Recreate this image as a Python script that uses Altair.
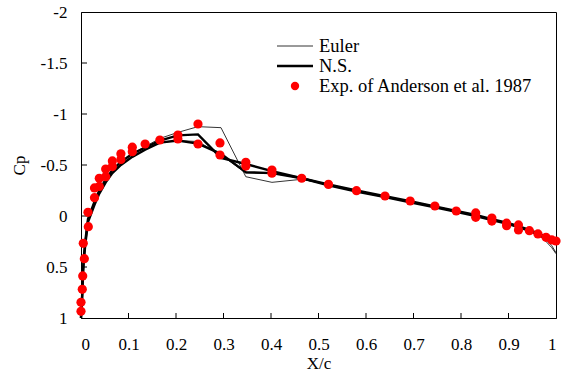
import altair as alt
import pandas as pd

# ---------------- data ----------------
# Experiment (Anderson et al. 1987)
exp_x = [0.0, 0.0, 0.0027, 0.0036, 0.007, 0.0048, 0.0154, 0.0147, 0.0284, 0.0284,
         0.0385, 0.0385, 0.052, 0.052, 0.066, 0.066, 0.084, 0.084, 0.108, 0.108,
         0.135, 0.166, 0.204, 0.204, 0.2463, 0.2463, 0.2926, 0.2926, 0.347, 0.347,
         0.402, 0.402, 0.4646, 0.521, 0.580, 0.640, 0.693, 0.745, 0.790, 0.831,
         0.831, 0.865, 0.865, 0.896, 0.896, 0.921, 0.921, 0.944, 0.962, 0.979,
         0.991, 1.0]
exp_cp = [0.934, 0.846, 0.719, 0.588, 0.418, 0.268, 0.105, -0.036, -0.18, -0.275,
          -0.29, -0.37, -0.385, -0.46, -0.485, -0.54, -0.555, -0.61, -0.63, -0.675,
          -0.706, -0.745, -0.755, -0.794, -0.706, -0.902, -0.716, -0.598, -0.527, -0.49,
          -0.45, -0.42, -0.37, -0.31, -0.248, -0.196, -0.147, -0.098, -0.049, -0.03,
          0.013, 0.02, 0.05, 0.07, 0.095, 0.088, 0.137, 0.144, 0.176, 0.209,
          0.235, 0.245]

# Navier-Stokes (two branches)
ns_a_x = [0.0, 0.0027, 0.004, 0.006, 0.009, 0.0147, 0.0284, 0.0385, 0.052, 0.066,
          0.084, 0.108, 0.135, 0.166, 0.204, 0.2463, 0.2947, 0.347, 0.402, 0.465,
          0.521, 0.580, 0.640, 0.693, 0.745, 0.790, 0.831, 0.865, 0.896, 0.921,
          0.944, 0.962, 0.979, 0.991, 1.0]
ns_a_cp = [1.0, 0.75, 0.55, 0.40, 0.25, 0.03, -0.14, -0.25, -0.36, -0.45,
           -0.53, -0.61, -0.67, -0.74, -0.79, -0.80, -0.57, -0.51, -0.44, -0.37,
           -0.31, -0.25, -0.195, -0.145, -0.095, -0.05, -0.01, 0.03, 0.065, 0.10,
           0.135, 0.17, 0.205, 0.23, 0.25]
ns_b_x = ns_a_x
ns_b_cp = [1.0, 0.77, 0.58, 0.43, 0.28, 0.06, -0.11, -0.22, -0.33, -0.42,
           -0.50, -0.58, -0.65, -0.72, -0.74, -0.71, -0.61, -0.43, -0.42, -0.37,
           -0.30, -0.24, -0.185, -0.135, -0.085, -0.04, 0.0, 0.04, 0.075, 0.11,
           0.145, 0.18, 0.21, 0.235, 0.255]

# Euler (two branches)
eu_a_x = ns_a_x
eu_a_cp = [1.0, 0.75, 0.55, 0.40, 0.25, 0.03, -0.14, -0.25, -0.36, -0.45,
           -0.53, -0.61, -0.68, -0.76, -0.82, -0.876, -0.866, -0.385, -0.33, -0.36,
           -0.31, -0.25, -0.195, -0.145, -0.095, -0.05, -0.01, 0.03, 0.065, 0.10,
           0.135, 0.18, 0.23, 0.29, 0.36]
eu_b_x = ns_a_x
eu_b_cp = [1.0, 0.77, 0.58, 0.43, 0.28, 0.06, -0.11, -0.22, -0.33, -0.42,
           -0.50, -0.58, -0.65, -0.72, -0.74, -0.73, -0.60, -0.42, -0.42, -0.37,
           -0.30, -0.24, -0.185, -0.135, -0.085, -0.04, 0.0, 0.04, 0.075, 0.11,
           0.145, 0.18, 0.25, 0.31, 0.37]

x_ticks = [0, 0.1, 0.2, 0.3, 0.4, 0.5, 0.6, 0.7, 0.8, 0.9, 1]
y_ticks = [-2, -1.5, -1, -0.5, 0, 0.5, 1]
legend_labels = ["Euler", "N.S.", "Exp. of Anderson et al. 1987"]

# ---------------- tables ----------------
def branch(xs, cps, name):
    return pd.DataFrame({"x": xs, "cp": cps, "branch": name, "i": range(len(xs))})

euler_df = pd.concat([branch(eu_a_x, eu_a_cp, "a"), branch(eu_b_x, eu_b_cp, "b")])
ns_df = pd.concat([branch(ns_a_x, ns_a_cp, "a"), branch(ns_b_x, ns_b_cp, "b")])
exp_df = pd.DataFrame({"x": exp_x, "cp": exp_cp})
xt_df = pd.DataFrame({"x": x_ticks[1:-1]})
yt_df = pd.DataFrame({"cp": y_ticks[1:-1]})

FONT = "Liberation Serif"
FS = 17
LFS = 18.5
W, H = 475, 306

xs = alt.Scale(domain=[0, 1], nice=False, zero=False)
ys = alt.Scale(domain=[-2, 1], reverse=True, nice=False, zero=False)
X = alt.X("x:Q", scale=xs, axis=alt.Axis(values=x_ticks, title="X/c", tickSize=0,
                                          labelPadding=18, titlePadding=3,
                                          labelExpr="toString(datum.value)"))
Y = alt.Y("cp:Q", scale=ys, axis=alt.Axis(values=y_ticks, title="Cp", tickSize=0,
                                           labelPadding=14, titlePadding=12,
                                           labelExpr="toString(datum.value)"))

euler = alt.Chart(euler_df).mark_line(color="black", strokeWidth=0.8).encode(
    x=X, y=Y, detail="branch:N", order="i:Q")
ns = alt.Chart(ns_df).mark_line(color="black", strokeWidth=2.4).encode(
    x=X, y=Y, detail="branch:N", order="i:Q")
pts = alt.Chart(exp_df).mark_circle(color="#ff0000", opacity=1, size=85).encode(x=X, y=Y)

xticks = alt.Chart(xt_df).mark_rule(color="black").encode(
    x=X, y=alt.value(H), y2=alt.value(H - 5))
yticks = alt.Chart(yt_df).mark_rule(color="black").encode(
    y=Y, x=alt.value(0), x2=alt.value(6))

leg_df = pd.DataFrame({"label": legend_labels})
leg_thin = alt.Chart(leg_df.iloc[[0]]).mark_rule(color="black", strokeWidth=0.8).encode(
    x=alt.value(196), x2=alt.value(232), y=alt.value(34))
leg_thick = alt.Chart(leg_df.iloc[[1]]).mark_rule(color="black", strokeWidth=2.4).encode(
    x=alt.value(196), x2=alt.value(232), y=alt.value(54))
leg_dot = alt.Chart(leg_df.iloc[[2]]).mark_circle(color="#ff0000", opacity=1, size=70).encode(
    x=alt.value(214), y=alt.value(74))
leg_text = [
    alt.Chart(leg_df.iloc[[k]]).mark_text(align="left", baseline="middle", font=FONT,
                                         fontSize=LFS, color="black").encode(
        x=alt.value(238), y=alt.value(34 + 20 * k), text="label:N")
    for k in range(3)
]

chart = alt.layer(xticks, yticks, euler, ns, pts, leg_thin, leg_thick, leg_dot, *leg_text).properties(
    width=W, height=H,
    background="white",
    autosize=alt.AutoSizeParams(type="none"),
    padding={"left": 81, "top": 12, "right": 6, "bottom": 63},
).configure_view(stroke="black", strokeWidth=1).configure_axis(
    grid=False, domainColor="black", domainWidth=1, labelColor="black", titleColor="black",
    labelFont=FONT, titleFont=FONT, labelFontSize=FS, titleFontSize=FS,
    titleFontWeight="normal",
)

chart.save("out.html", embed_options={"renderer": "svg", "actions": False})
